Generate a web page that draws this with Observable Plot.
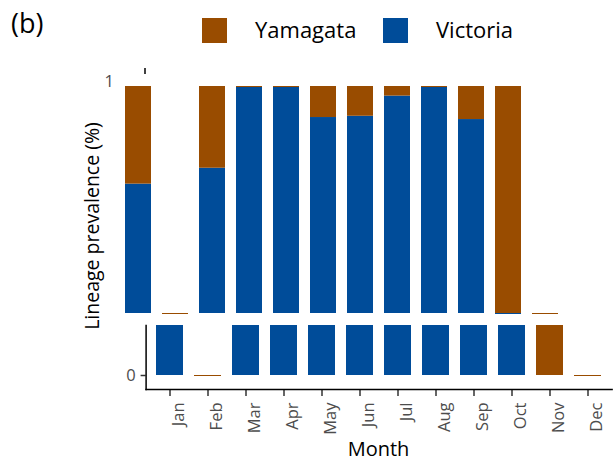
<!DOCTYPE html>
<html>
<head>
<meta charset="utf-8">
<script src="https://cdn.jsdelivr.net/npm/d3@7"></script>
<script src="https://cdn.jsdelivr.net/npm/@observablehq/plot@0.6"></script>
<style>
  body { margin: 0; background: #fff; }
  #wrap { position: relative; width: 616px; height: 464px; overflow: hidden; background: #fff; font-family: "Open Sans", sans-serif; }
  #wrap > * { position: absolute; left: 0; }
</style>
</head>
<body>
<div id="wrap"></div>
<script>
// ---- data ----
const MONTHS = ["Jan", "Feb", "Mar", "Apr", "May", "Jun", "Jul", "Aug", "Sep", "Oct", "Nov", "Dec"];
const LINEAGES = ["Yamagata", "Victoria"];
const LINEAGE_COLORS = ["#994C00", "#004C99"];
const VICTORIA = [0.613, 0, 0.676, 0.996, 0.996, 0.877, 0.882, 0.962, 0.996, 0.869, 0, 0];
const YAMAGATA = [0.387, 0, 0.324, 0.004, 0.004, 0.123, 0.118, 0.038, 0.004, 0.131, 1, 0];
const TOP_TICKS = [1];
const BOTTOM_TICKS = [0];
const TOP_DOMAIN = [0.1, 1];
const BOTTOM_DOMAIN = [-0.014, 0.05];
const PANEL_TAG = "(b)";
const X_TITLE = "Month";
const Y_TITLE = "Lineage prevalence (%)";

const FONT = "'Open Sans', sans-serif";
const rows = [
  ...MONTHS.map((m, i) => ({month: m, lineage: "Victoria", value: VICTORIA[i]})),
  ...MONTHS.map((m, i) => ({month: m, lineage: "Yamagata", value: YAMAGATA[i]}))
];
const monthTotal = new Map(MONTHS.map((m, i) => [m, VICTORIA[i] + YAMAGATA[i]]));
const zerosTop = rows.filter(d => d.value === 0);
const zerosBottom = rows.filter(d => d.value === 0 && monthTotal.get(d.month) === 0);
const color = {domain: LINEAGES, range: LINEAGE_COLORS};
const order = ["Victoria", "Yamagata"];

const wrap = document.getElementById("wrap");

// ---- top panel (upper part of broken axis) ----
const topPlot = Plot.plot({
  width: 616, height: 260,
  marginLeft: 112, marginRight: 45, marginTop: 26, marginBottom: 7,
  style: {fontFamily: FONT, background: "transparent", overflow: "visible"},
  x: {domain: MONTHS, paddingInner: 0.29, paddingOuter: 0.245, align: 0.5, axis: null},
  y: {domain: TOP_DOMAIN, clamp: true, axis: null},
  color,
  marks: [
    Plot.tickY(zerosTop, {x: "month", y: "value", stroke: "lineage", strokeWidth: 1}),
    Plot.barY(rows, {x: "month", y: "value", fill: "lineage", order}),
    Plot.text(TOP_TICKS, {y: d => d, text: d => String(d), frameAnchor: "left", textAnchor: "end", dx: 1.5, dy: -4.5, fontSize: 16.5, fill: "#4d4d4d"})
  ]
});
topPlot.style.top = "60px";
d3.select(topPlot).append("line")
  .attr("x1", 145).attr("x2", 145).attr("y1", 8).attr("y2", 14)
  .attr("stroke", "#000").attr("stroke-width", 1.5);
wrap.appendChild(topPlot);

// ---- bottom panel (lower part of broken axis) ----
const bottomPlot = Plot.plot({
  width: 616, height: 144,
  marginLeft: 145.6, marginRight: 4.4, marginTop: 5, marginBottom: 75,
  style: {fontFamily: FONT, background: "transparent", overflow: "visible"},
  x: {domain: MONTHS, paddingInner: 0.29, paddingOuter: 0.245, align: 0.5},
  y: {domain: BOTTOM_DOMAIN, clamp: true},
  color,
  marks: [
    Plot.tickY(zerosBottom, {x: "month", y: "value", stroke: "lineage", strokeWidth: 1}),
    Plot.barY(rows, {x: "month", y: "value", fill: "lineage", order}),
    Plot.axisY(BOTTOM_TICKS, {anchor: "left", label: null, tickSize: 5, tickPadding: 5.5, tickFormat: d => String(d), fontSize: 16.5, color: "#4d4d4d", stroke: "#333", strokeWidth: 1.5}),
    Plot.axisX({anchor: "bottom", label: null, tickSize: 7, tickFormat: () => "", stroke: "#333", strokeWidth: 1.5}),
    Plot.frame({anchor: "left", stroke: "#000", strokeWidth: 1.5}),
    Plot.frame({anchor: "bottom", stroke: "#000", strokeWidth: 1.5}),
    Plot.text(MONTHS, {x: d => d, frameAnchor: "bottom", rotate: -90, textAnchor: "end", lineAnchor: "middle", dx: 9, dy: 13, fontSize: 16.5, fill: "#4d4d4d"})
  ]
});
bottomPlot.style.top = "320px";
wrap.appendChild(bottomPlot);

// ---- titles and legend ----
const overlay = d3.create("svg")
  .attr("width", 616).attr("height", 464)
  .style("top", "0px").style("pointer-events", "none")
  .style("font-family", FONT);
overlay.append("text").attr("x", 11).attr("y", 33).attr("font-size", 27).attr("fill", "#000").text(PANEL_TAG);
const legendX = [202, 383];
LINEAGES.forEach((name, i) => {
  overlay.append("rect").attr("x", legendX[i]).attr("y", 18).attr("width", 25).attr("height", 25).attr("fill", LINEAGE_COLORS[i]);
  overlay.append("text").attr("x", legendX[i] + 53).attr("y", 38).attr("font-size", 22).attr("fill", "#000").text(name);
});
overlay.append("text").attr("x", 378.5).attr("y", 456).attr("text-anchor", "middle").attr("font-size", 20).attr("fill", "#000").text(X_TITLE);
overlay.append("text").attr("transform", "translate(99,226) rotate(-90)").attr("text-anchor", "middle").attr("font-size", 19.5).attr("fill", "#000").text(Y_TITLE);
wrap.appendChild(overlay.node());
</script>
</body>
</html>
